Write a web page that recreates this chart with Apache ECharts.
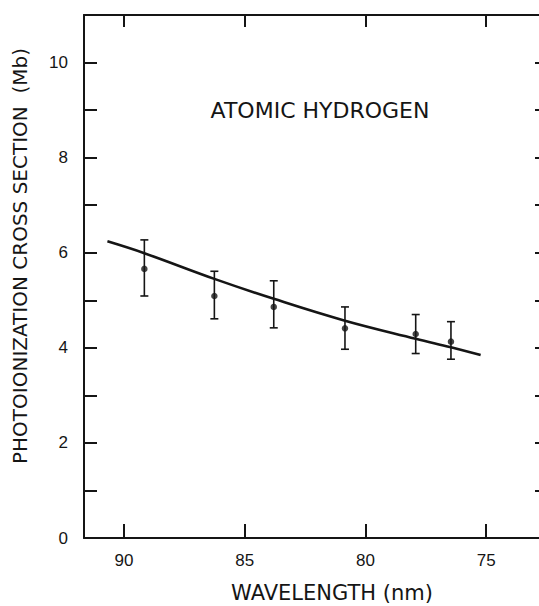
<!DOCTYPE html>
<html>
<head>
<meta charset="utf-8">
<script src="https://cdn.jsdelivr.net/npm/echarts@6/dist/echarts.min.js"></script>
<style>
html,body{margin:0;padding:0;background:#fff;}
#chart{width:539px;height:606px;}
</style>
</head>
<body>
<div id="chart"></div>
<script>
// Data
const xTicks = [90, 85, 80, 75];
const yLabelValues = [0, 2, 4, 6, 8, 10];
const pointWl = [89.16, 86.26, 83.80, 80.85, 77.92, 76.46];
const pointVal = [5.66, 5.09, 4.86, 4.41, 4.29, 4.13];
const errHigh = [6.27, 5.61, 5.41, 4.86, 4.70, 4.55];
const errLow = [5.09, 4.61, 4.42, 3.97, 3.88, 3.76];
const curveWl = [90.69, 89.16, 86.26, 83.80, 80.85, 77.92, 76.46, 75.23];
const curveVal = [6.24, 5.99, 5.45, 5.03, 4.57, 4.19, 4.01, 3.85];
const yTitle = 'PHOTOIONIZATION CROSS SECTION  (Mb)';
const xTitle = 'WAVELENGTH (nm)';
const annotation = 'ATOMIC HYDROGEN';

const ink = '#151515';
const chart = echarts.init(document.getElementById('chart'), null, {renderer: 'svg'});

const scatterData = pointWl.map((w, i) => [w, pointVal[i]]);
const errData = pointWl.map((w, i) => [w, errHigh[i], errLow[i]]);
const curveData = curveWl.map((w, i) => [w, curveVal[i]]);

const xCommon = {
  type: 'value', min: 72.44, max: 91.66, inverse: true,
  splitLine: {show: false},
  axisLine: {show: true, onZero: false, lineStyle: {color: ink, width: 2}}
};
const yCommon = {
  type: 'value', min: 0, max: 11, interval: 1,
  splitLine: {show: false},
  axisLine: {show: true, onZero: false, lineStyle: {color: ink, width: 2}}
};

chart.setOption({
  backgroundColor: '#fff',
  animation: false,
  grid: {left: 84, top: 15, width: 464, height: 523, containLabel: false, outerBoundsMode: 'none'},
  xAxis: [
    Object.assign({}, xCommon, {
      position: 'bottom',
      axisTick: {show: true, inside: true, length: 14, customValues: xTicks, lineStyle: {color: ink, width: 2}},
      axisLabel: {show: true, customValues: xTicks, margin: 14, color: ink, fontSize: 17, fontFamily: 'Liberation Sans'}
    }),
    Object.assign({}, xCommon, {
      position: 'top',
      axisTick: {show: true, inside: true, length: 12, customValues: xTicks, lineStyle: {color: ink, width: 2}},
      axisLabel: {show: false}
    })
  ],
  yAxis: [
    Object.assign({}, yCommon, {
      position: 'left',
      axisTick: {show: true, inside: true, length: 13, lineStyle: {color: ink, width: 2}},
      axisLabel: {show: true, customValues: yLabelValues, margin: 16, color: ink, fontSize: 17, fontFamily: 'Liberation Sans'}
    }),
    Object.assign({}, yCommon, {
      position: 'right',
      axisTick: {show: true, inside: true, length: 13, lineStyle: {color: ink, width: 2}},
      axisLabel: {show: false}
    })
  ],
  series: [
    {
      type: 'line', data: curveData, smooth: 0.4, showSymbol: false, symbol: 'none',
      lineStyle: {color: ink, width: 2.6}, z: 3
    },
    {
      type: 'custom', data: errData, z: 4,
      renderItem: function (params, api) {
        const x = api.value(0);
        const top = api.coord([x, api.value(1)]);
        const bot = api.coord([x, api.value(2)]);
        const hw = 4;
        const st = {stroke: ink, lineWidth: 1.6};
        return {
          type: 'group',
          children: [
            {type: 'line', shape: {x1: top[0], y1: top[1], x2: bot[0], y2: bot[1]}, style: st},
            {type: 'line', shape: {x1: top[0] - hw, y1: top[1], x2: top[0] + hw, y2: top[1]}, style: st},
            {type: 'line', shape: {x1: bot[0] - hw, y1: bot[1], x2: bot[0] + hw, y2: bot[1]}, style: st}
          ]
        };
      }
    },
    {
      type: 'scatter', data: scatterData, symbol: 'circle', symbolSize: 6.5,
      itemStyle: {color: ink}, z: 5
    }
  ],
  graphic: [
    {
      type: 'text', x: 320, y: 110,
      style: {text: annotation, fill: ink, fontSize: 22, fontFamily: 'DejaVu Sans', align: 'center', verticalAlign: 'middle'}
    },
    {
      type: 'text', x: 332, y: 593,
      style: {text: xTitle, fill: ink, fontSize: 21, fontFamily: 'DejaVu Sans', align: 'center', verticalAlign: 'middle'}
    },
    {
      type: 'text', x: 20, y: 256, rotation: Math.PI / 2,
      style: {text: yTitle, fill: ink, fontSize: 20, fontFamily: 'DejaVu Sans', align: 'center', verticalAlign: 'middle'}
    }
  ]
});
</script>
</body>
</html>
